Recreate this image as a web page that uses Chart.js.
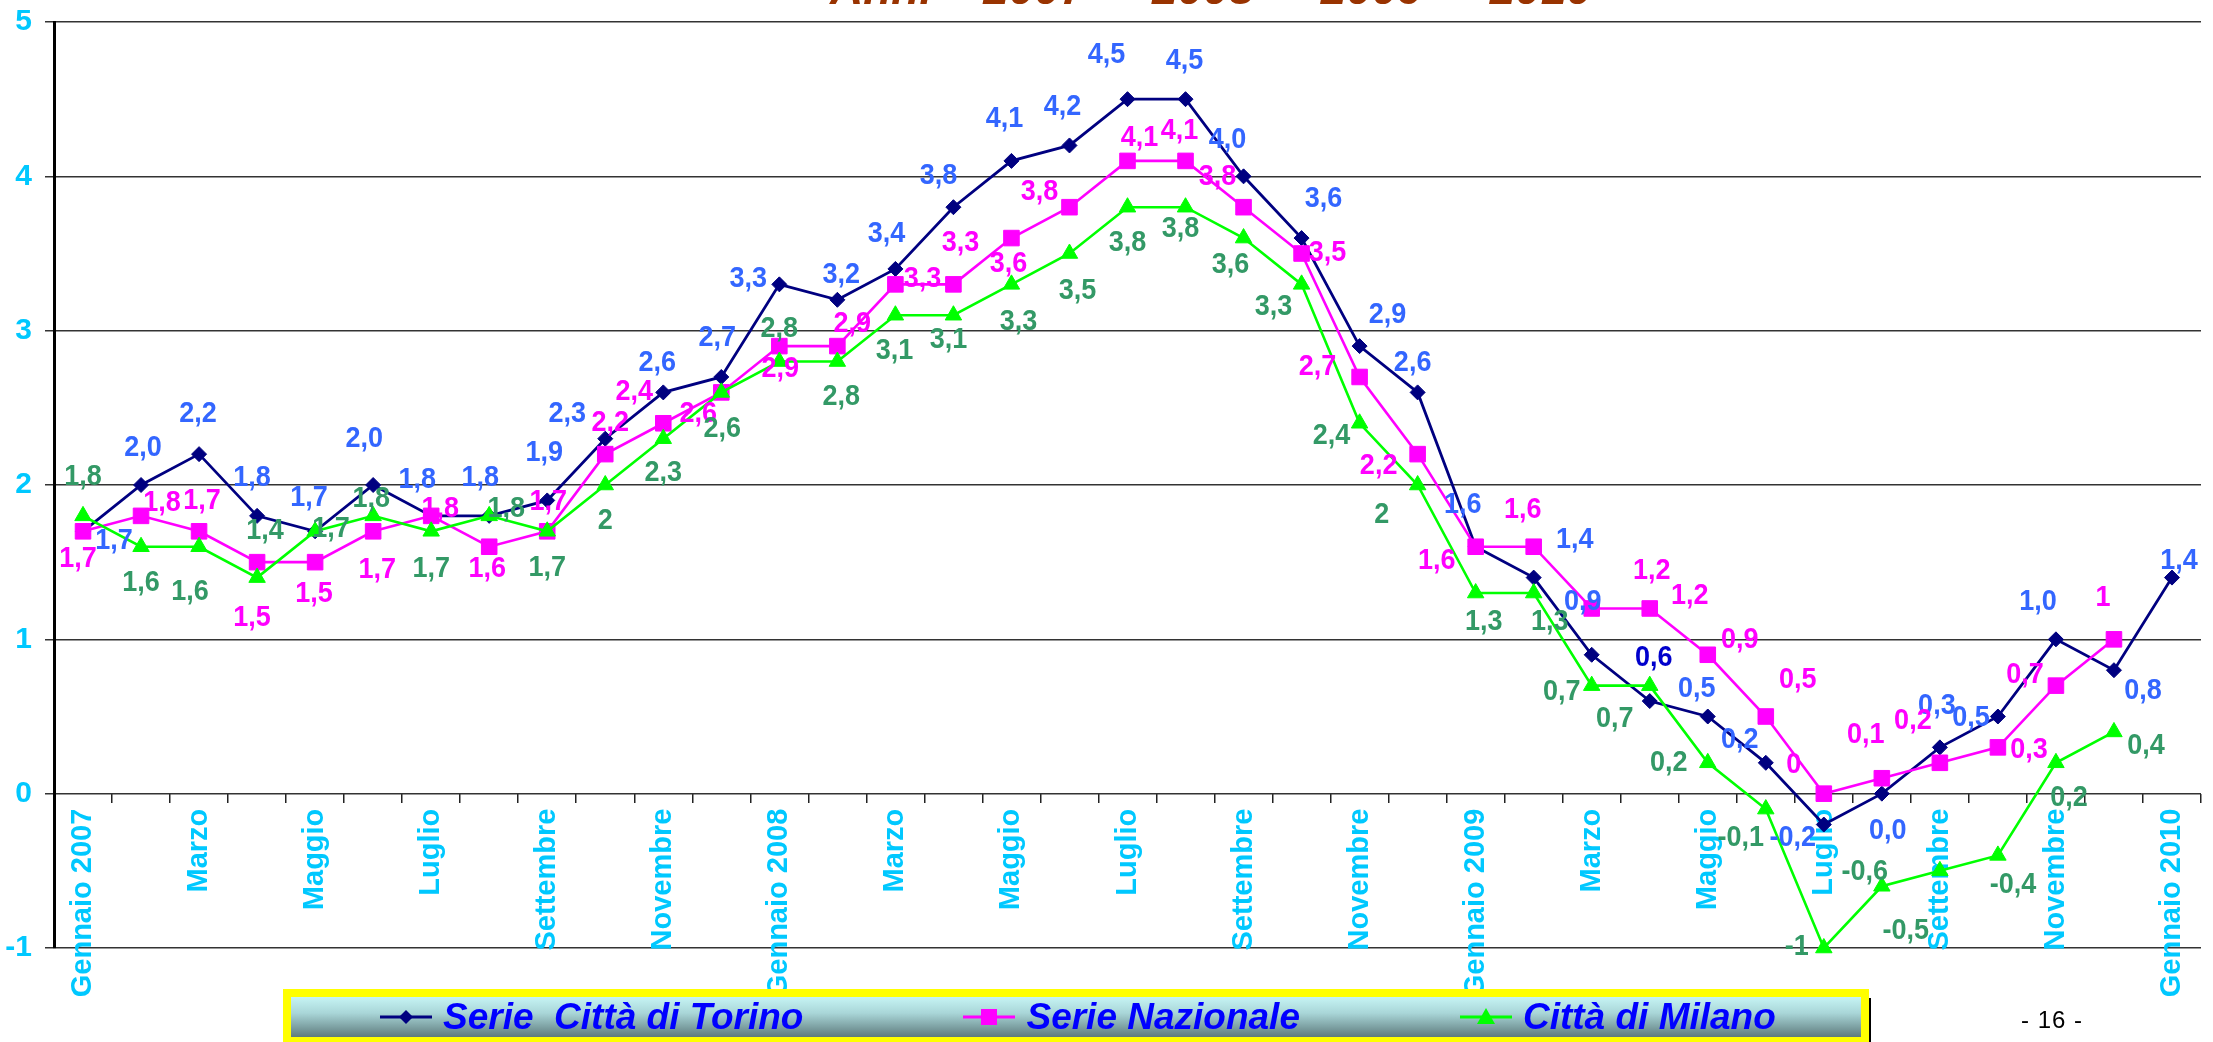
<!DOCTYPE html>
<html lang="it">
<head>
<meta charset="utf-8">
<title>Anni 2007 - 2008 - 2009 - 2010</title>
<script src="https://cdn.jsdelivr.net/npm/chart.js@4.4.1/dist/chart.umd.min.js"></script>
<style>
  html, body { margin: 0; padding: 0; background: #fff; overflow: hidden; }
  #pagina { position: relative; width: 2213px; height: 1042px; overflow: hidden; }
  #grafico { position: absolute; left: 0; top: 0; width: 2213px; height: 1042px; }
  #titolo { position: absolute; left: 830px; top: -35px; margin: 0; white-space: pre;
            font: italic bold 46px/46px "Liberation Sans", Arial, sans-serif; color: #993300; }
  #legenda { position: absolute; left: 283px; top: 989px; width: 1586px; height: 56px; box-sizing: border-box;
             border: 8px solid #ffff00; box-shadow: 2px 9px 0 #000;
             background: linear-gradient(to bottom, #c6f4f4 0%, #a9d6d8 40%, #5e7b7d 100%);
             display: flex; align-items: center; padding-left: 89px; gap: 160px; }
  .voce { display: flex; align-items: center; white-space: pre; color: #0000ff;
          font: italic bold 37px "Liberation Sans", Arial, sans-serif; }
  .voce svg { margin-right: 11px; }
  #numero { position: absolute; left: 2021px; top: 1006px; white-space: pre; letter-spacing: 1px;
            font: 24px "Liberation Sans", Arial, sans-serif; color: #000; }
</style>
</head>
<body>
<div id="pagina">
  <canvas id="grafico"></canvas>
  <div id="titolo">Anni    2007  -  2008  -  2009  -  2010</div>
  <div id="legenda"></div>
  <div id="numero">- 16 -</div>
</div>
<script>
// Mesi (categorie dell'asse X)
const mesi = [
  'Gennaio 2007', 'Febbraio', 'Marzo', 'Aprile', 'Maggio', 'Giugno', 'Luglio', 'Agosto',
  'Settembre', 'Ottobre', 'Novembre', 'Dicembre',
  'Gennaio 2008', 'Febbraio', 'Marzo', 'Aprile', 'Maggio', 'Giugno', 'Luglio', 'Agosto',
  'Settembre', 'Ottobre', 'Novembre', 'Dicembre',
  'Gennaio 2009', 'Febbraio', 'Marzo', 'Aprile', 'Maggio', 'Giugno', 'Luglio', 'Agosto',
  'Settembre', 'Ottobre', 'Novembre', 'Dicembre',
  'Gennaio 2010'
];

// Valori delle tre serie
const torino = [1.7, 2.0, 2.2, 1.8, 1.7, 2.0, 1.8, 1.8, 1.9, 2.3, 2.6, 2.7,
  3.3, 3.2, 3.4, 3.8, 4.1, 4.2, 4.5, 4.5, 4.0, 3.6, 2.9, 2.6,
  1.6, 1.4, 0.9, 0.6, 0.5, 0.2, -0.2, 0.0, 0.3, 0.5, 1.0, 0.8,
  1.4];
const nazionale = [1.7, 1.8, 1.7, 1.5, 1.5, 1.7, 1.8, 1.6, 1.7, 2.2, 2.4, 2.6,
  2.9, 2.9, 3.3, 3.3, 3.6, 3.8, 4.1, 4.1, 3.8, 3.5, 2.7, 2.2,
  1.6, 1.6, 1.2, 1.2, 0.9, 0.5, 0, 0.1, 0.2, 0.3, 0.7, 1,
  null];
const milano = [1.8, 1.6, 1.6, 1.4, 1.7, 1.8, 1.7, 1.8, 1.7, 2, 2.3, 2.6,
  2.8, 2.8, 3.1, 3.1, 3.3, 3.5, 3.8, 3.8, 3.6, 3.3, 2.4, 2,
  1.3, 1.3, 0.7, 0.7, 0.2, -0.1, -1, -0.6, -0.5, -0.4, 0.2, 0.4,
  null];

// Tacche dell'asse Y
const taccheY = [-1, 0, 1, 2, 3, 4, 5];

// Spostamento (px) delle etichette dei valori rispetto al punto
const spostTorino = [[31, 9], [2, -37], [-1, -40], [-5, -38], [-6, -34], [-9, -46], [-14, -36], [-9, -38],
  [-3, -48], [-38, -25], [-6, -30], [-4, -39], [-31, -6], [4, -25], [-9, -35], [-15, -31],
  [-7, -42], [-7, -39], [-21, -44], [-1, -38], [-16, -37], [22, -39], [28, -31], [-5, -30],
  [-13, -42], [41, -38], [-9, -53], [4, -43], [-11, -28], [-26, -23], [-31, 13], [6, 37],
  [-3, -42], [-27, 1], [-18, -38], [29, 21], [7, -17]];
const spostNazionale = [[-5, 27], [21, -13], [3, -31], [-5, 56], [-1, 32], [4, 38], [9, -7], [-2, 22],
  [1, -30], [5, -31], [-29, -32], [-23, 21], [1, 23], [15, -22], [27, -6], [7, -42],
  [-3, 26], [-30, -15], [12, -23], [-6, -30], [-26, -30], [26, -1], [-42, -10], [-39, 12],
  [-39, 14], [-11, -37], [60, -38], [40, -13], [32, -15], [32, -37], [-30, -29], [-16, -43],
  [-27, -42], [31, 2], [-31, -11], [-11, -42], null];
const spostMilano = [[0, -39], [0, 36], [-9, 45], [8, -47], [16, -3], [-2, -17], [0, 37], [17, -7],
  [0, 36], [0, 36], [0, 34], [1, 36], [0, -33], [4, 35], [-1, 36], [-5, 25],
  [7, 37], [8, 37], [0, 36], [-5, 22], [-13, 27], [-28, 22], [-28, 12], [-36, 30],
  [8, 29], [16, 29], [-30, 6], [-35, 33], [-39, 0], [-25, 29], [-27, -1], [-17, -15],
  [-34, 60], [15, 29], [13, 35], [32, 14], null];

const FONT = '"Liberation Sans", Arial, sans-serif';
const CIANO = '#00c8ff';

// Plugin per le etichette dei valori (stile Excel)
const etichetteValori = {
  id: 'etichetteValori',
  afterDatasetsDraw(chart, args, opts) {
    const ctx = chart.ctx;
    chart.data.datasets.forEach(function(ds, di) {
      const meta = chart.getDatasetMeta(di);
      const conf = opts.serie[di];
      meta.data.forEach(function(pt, i) {
        const v = ds.data[i];
        if (v === null || v === undefined) return;
        const sp = conf.spostamenti[i] || [0, -30];
        const testo = (conf.decimali ? v.toFixed(1) : String(v)).replace('.', ',');
        let colore = conf.colore;
        opts.eccezioni.forEach(function(e) {
          if (e.serie === di && e.indice === i) colore = e.colore;
        });
        ctx.save();
        ctx.translate(pt.x + sp[0], pt.y + sp[1]);
        ctx.scale(0.9, 1);
        ctx.font = 'bold 30px ' + FONT;
        ctx.fillStyle = colore;
        ctx.textAlign = 'center';
        ctx.textBaseline = 'middle';
        ctx.fillText(testo, 0, 0);
        ctx.restore();
      });
    });
  }
};

function initGrafico() {
  const ctx = document.getElementById('grafico');
  const chart = new Chart(ctx, {
    type: 'line',
    data: {
      labels: mesi,
      datasets: [{
        label: 'Serie  Città di Torino',
        data: torino,
        borderColor: '#000080',
        backgroundColor: '#000080',
        borderWidth: 2.8,
        pointStyle: 'rectRot',
        pointRadius: 7.5,
        pointBorderWidth: 1,
        order: 3,
        clip: false
      }, {
        label: 'Serie Nazionale',
        data: nazionale,
        borderColor: '#ff00ff',
        backgroundColor: '#ff00ff',
        borderWidth: 2.6,
        pointStyle: 'rect',
        pointRadius: 11,
        pointBorderWidth: 1,
        order: 2,
        clip: false
      }, {
        label: 'Città di Milano',
        data: milano,
        borderColor: '#00ff00',
        backgroundColor: '#00ff00',
        borderWidth: 2.6,
        pointStyle: 'triangle',
        pointRadius: 9.5,
        pointBorderWidth: 1,
        order: 1,
        clip: false
      }]
    },
    options: {
      responsive: true,
      maintainAspectRatio: false,
      animation: false,
      layout: {
        padding: { left: 0, right: 0, top: 22, bottom: 94 }
      },
      scales: {
        x: {
          position: { y: 0 },
          z: 1,
          offset: true,
          border: { display: false },
          afterFit: function(scale) {
            scale.paddingLeft = 0;
            scale.paddingRight = 0;
          },
          grid: {
            offset: true,
            drawOnChartArea: false,
            drawTicks: true,
            tickLength: 9,
            color: '#222',
            lineWidth: 1.5
          },
          ticks: {
            autoSkip: false,
            minRotation: 90,
            maxRotation: 90,
            padding: 6,
            color: CIANO,
            font: { family: FONT, size: 29, weight: 'bold' },
            callback: function(value, index) {
              return index % 2 === 0 ? this.getLabelForValue(value) : '';
            }
          }
        },
        y: {
          min: -1,
          max: 5,
          afterBuildTicks: function(axis) {
            axis.ticks = taccheY.map(function(v) { return { value: v }; });
          },
          afterFit: function(scale) {
            scale.width = 54;
            scale.paddingTop = 0;
            scale.paddingBottom = 0;
          },
          border: { display: true, color: '#000', width: 3 },
          grid: {
            color: '#333',
            lineWidth: 1.5,
            tickLength: 9
          },
          ticks: {
            padding: 13,
            color: CIANO,
            font: { family: FONT, size: 30, weight: 'bold' }
          }
        }
      },
      plugins: {
        legend: { display: false },
        tooltip: { enabled: false },
        etichetteValori: {
          serie: [
            { colore: '#3366ff', decimali: true, spostamenti: spostTorino },
            { colore: '#ff00ff', decimali: false, spostamenti: spostNazionale },
            { colore: '#339966', decimali: false, spostamenti: spostMilano }
          ],
          eccezioni: [{ serie: 0, indice: 27, colore: '#0000cc' }]
        }
      }
    },
    plugins: [etichetteValori]
  });
  return chart;
}

// Legenda HTML con linea e simbolo della serie
function simbolo(ds) {
  const c = ds.borderColor;
  let forma = '';
  if (ds.pointStyle === 'rectRot') {
    forma = '<polygon points="26,5 33,12 26,19 19,12" fill="' + c + '"/>';
  } else if (ds.pointStyle === 'rect') {
    forma = '<rect x="18" y="4" width="16" height="16" fill="' + c + '"/>';
  } else {
    forma = '<polygon points="26,3 35,19 17,19" fill="' + c + '"/>';
  }
  return '<svg width="52" height="24" viewBox="0 0 52 24">' +
    '<line x1="0" y1="12" x2="52" y2="12" stroke="' + c + '" stroke-width="3"/>' + forma + '</svg>';
}

function initLegenda(chart) {
  const box = document.getElementById('legenda');
  chart.data.datasets.forEach(function(ds) {
    const voce = document.createElement('div');
    voce.className = 'voce';
    voce.innerHTML = simbolo(ds);
    const testo = document.createElement('span');
    testo.textContent = ds.label;
    voce.appendChild(testo);
    box.appendChild(voce);
  });
}

document.addEventListener('DOMContentLoaded', function() {
  const chart = initGrafico();
  initLegenda(chart);
});
</script>
</body>
</html>
